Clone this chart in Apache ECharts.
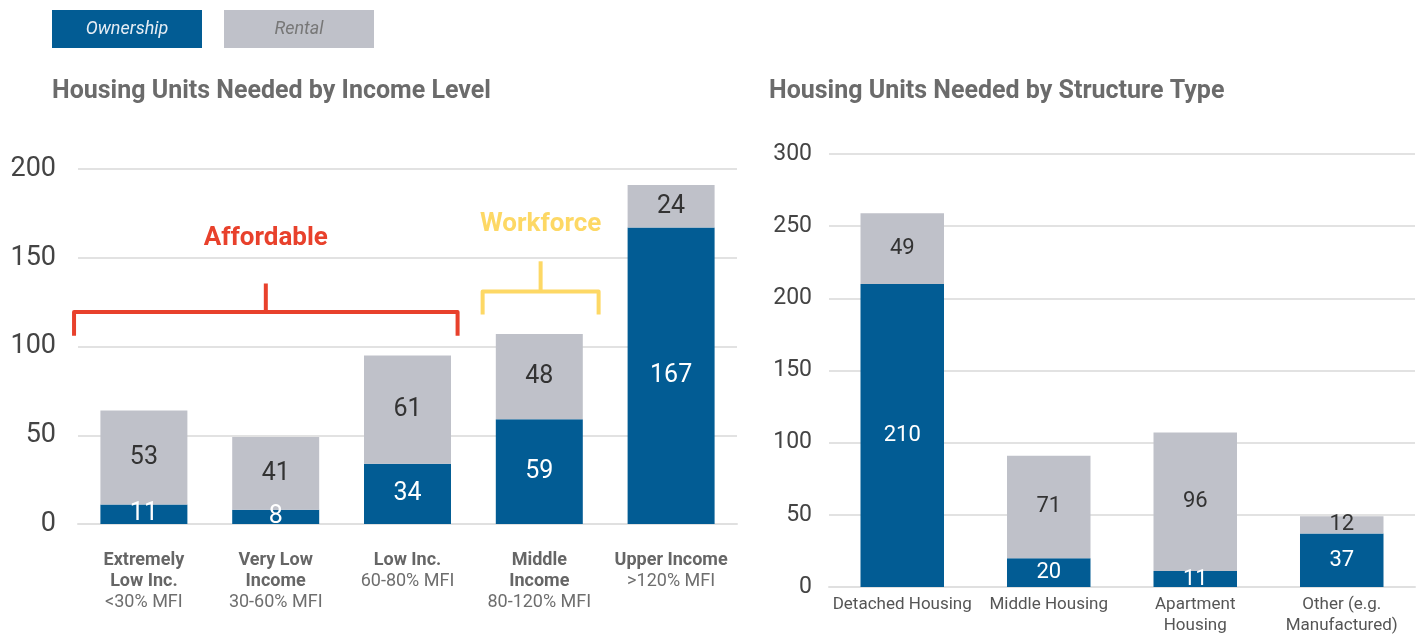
<!DOCTYPE html>
<html>
<head>
<meta charset="utf-8">
<script src="https://cdn.jsdelivr.net/npm/echarts@6/dist/echarts.min.js"></script>
<style>
  html, body { margin: 0; padding: 0; background: #fff; }
  #main { width: 1424px; height: 636px; }
</style>
</head>
<body>
<div id="main"></div>
<script>
const incomeCats = ["Extremely\nLow Inc.", "Very Low\nIncome", "Low Inc.", "Middle\nIncome", "Upper Income"];
const incomeSub = ["<30% MFI", "30-60% MFI", "60-80% MFI", "80-120% MFI", ">120% MFI"];
const incomeOwnership = [11, 8, 34, 59, 167];
const incomeRental = [53, 41, 61, 48, 24];

const structureCats = ["Detached Housing", "Middle Housing", "Apartment\nHousing", "Other (e.g.\nManufactured)"];
const structureOwnership = [210, 20, 11, 37];
const structureRental = [49, 71, 96, 12];

const BLUE = "#025c94";
const GRAY = "#bfc1c9";
const FONT = "Roboto, 'Liberation Sans', sans-serif";

const chart = echarts.init(document.getElementById("main"));

function barSeries(name, data, color, labelColor, axis, fontSize) {
  return {
    name,
    type: "bar",
    stack: "total" + axis,
    xAxisIndex: axis,
    yAxisIndex: axis,
    data,
    barWidth: axis === 0 ? "66%" : "57%",
    itemStyle: { color },
    label: {
      show: true,
      position: "inside",
      color: labelColor,
      fontFamily: FONT,
      fontSize,
    },
    emphasis: { disabled: true },
  };
}

chart.setOption({
  animation: false,
  textStyle: { fontFamily: FONT },
  title: [
    {
      text: "Housing Units Needed by Income Level",
      left: 52,
      top: 79,
      padding: 0,
      textStyle: { fontSize: 25, fontWeight: "bold", color: "#6b6b6b", fontFamily: FONT },
    },
    {
      text: "Housing Units Needed by Structure Type",
      left: 769,
      top: 79,
      padding: 0,
      textStyle: { fontSize: 25, fontWeight: "bold", color: "#6b6b6b", fontFamily: FONT },
    },
  ],
  grid: [
    { left: 78, right: 687, top: 169, bottom: 112 },
    { left: 829, right: 9, top: 154, bottom: 44 },
  ],
  xAxis: [
    {
      type: "category",
      gridIndex: 0,
      data: incomeCats,
      axisLine: { lineStyle: { color: "#e0e0e0", width: 2 } },
      axisTick: { show: false },
      axisLabel: {
        margin: 26,
        interval: 0,
        formatter: (v, i) =>
          v.split("\n").map((s) => `{b|${s}}`).join("\n") + `\n{r|${incomeSub[i]}}`,
        rich: {
          b: { fontSize: 18, fontWeight: "bold", color: "#666", lineHeight: 21, fontFamily: FONT },
          r: { fontSize: 18, color: "#6e6e6e", lineHeight: 21, fontFamily: FONT },
        },
      },
    },
    {
      type: "category",
      gridIndex: 1,
      data: structureCats,
      axisLine: { lineStyle: { color: "#e0e0e0", width: 2 } },
      axisTick: { show: false },
      axisLabel: {
        margin: 7,
        interval: 0,
        fontSize: 17,
        lineHeight: 21,
        color: "#555",
        fontFamily: FONT,
      },
    },
  ],
  yAxis: [
    {
      type: "value",
      gridIndex: 0,
      min: 0,
      max: 200,
      interval: 50,
      axisLabel: { fontSize: 27, color: "#444", margin: 22, fontFamily: FONT },
      splitLine: { lineStyle: { color: "#e2e2e2", width: 2 } },
    },
    {
      type: "value",
      gridIndex: 1,
      min: 0,
      max: 300,
      interval: 50,
      axisLabel: { fontSize: 23, color: "#444", margin: 17, fontFamily: FONT },
      splitLine: { lineStyle: { color: "#e2e2e2", width: 2 } },
    },
  ],
  series: [
    barSeries("Ownership", incomeOwnership, BLUE, "#fff", 0, 25),
    barSeries("Rental", incomeRental, GRAY, "#333", 0, 25),
    barSeries("Ownership", structureOwnership, BLUE, "#fff", 1, 22),
    barSeries("Rental", structureRental, GRAY, "#333", 1, 22),
  ],
});

// annotation brackets over the income chart, placed in category / value units
const brackets = [
  { text: "Affordable", color: "#e8412c", from: -0.53, to: 2.38, level: 119.5, ends: 106, tick: 135.5, textAt: 161 },
  { text: "Workforce", color: "#fdd865", from: 2.57, to: 3.45, level: 131, ends: 118, tick: 148, textAt: 169 },
];

const x0 = chart.convertToPixel({ xAxisIndex: 0 }, incomeCats[0]);
const x1 = chart.convertToPixel({ xAxisIndex: 0 }, incomeCats[1]);
const band = x1 - x0;
const px = (c) => x0 + c * band;
const py = (v) => chart.convertToPixel({ yAxisIndex: 0 }, v);

const graphic = [
  {
    type: "rect",
    left: 52,
    top: 10,
    shape: { width: 150, height: 38 },
    style: { fill: BLUE },
  },
  {
    type: "text",
    x: 127,
    y: 29,
    style: {
      text: "Ownership",
      fill: "#e6edf4",
      font: `italic 18px ${FONT}`,
      align: "center",
      verticalAlign: "middle",
    },
  },
  {
    type: "rect",
    left: 224,
    top: 10,
    shape: { width: 150, height: 38 },
    style: { fill: GRAY },
  },
  {
    type: "text",
    x: 299,
    y: 29,
    style: {
      text: "Rental",
      fill: "#777",
      font: `italic 18px ${FONT}`,
      align: "center",
      verticalAlign: "middle",
    },
  },
];

brackets.forEach((b) => {
  const xl = px(b.from);
  const xr = px(b.to);
  const xm = (xl + xr) / 2;
  graphic.push({
    type: "polyline",
    shape: {
      points: [
        [xl, py(b.ends)],
        [xl, py(b.level)],
        [xr, py(b.level)],
        [xr, py(b.ends)],
      ],
    },
    style: { stroke: b.color, lineWidth: 4, fill: null, lineJoin: "round" },
  });
  graphic.push({
    type: "line",
    shape: { x1: xm, y1: py(b.level), x2: xm, y2: py(b.tick) },
    style: { stroke: b.color, lineWidth: 4 },
  });
  graphic.push({
    type: "text",
    x: xm,
    y: py(b.textAt),
    style: {
      text: b.text,
      fill: b.color,
      font: `bold 26px ${FONT}`,
      align: "center",
      verticalAlign: "middle",
    },
  });
});

chart.setOption({ graphic });
</script>
</body>
</html>
